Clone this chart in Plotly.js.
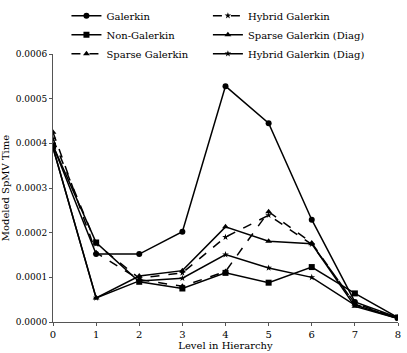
<!DOCTYPE html>
<html>
<head>
<meta charset="utf-8">
<script src="https://cdn.plot.ly/plotly-3.0.1.min.js"></script>
<style>
  html, body { margin: 0; padding: 0; background: #fff; }
  #chart { width: 407px; height: 353px; }
</style>
</head>
<body>
<div id="chart"></div>
<script>
// levels in the hierarchy
let levels = [0, 1, 2, 3, 4, 5, 6, 7, 8];

// modeled SpMV time per level
let galerkin       = [0.000395, 0.000152, 0.000152, 0.000202, 0.000528, 0.000445, 0.000229, 0.000045, 0.000010];
let nonGalerkin    = [0.000395, 0.000178, 0.000090, 0.000075, 0.000110, 0.000088, 0.000123, 0.000064, 0.000010];
let sparseGal      = [0.000425, 0.000155, 0.000095, 0.000080, 0.000113, 0.000247, 0.000177, 0.000040, 0.000008];
let hybridGal      = [0.000410, 0.000175, 0.000098, 0.000110, 0.000190, 0.000239, 0.000174, 0.000042, 0.000008];
let sparseGalDiag  = [0.000390, 0.000054, 0.000103, 0.000115, 0.000213, 0.000181, 0.000175, 0.000035, 0.000008];
let hybridGalDiag  = [0.000390, 0.000054, 0.000092, 0.000098, 0.000151, 0.000121, 0.000100, 0.000038, 0.000008];

function series(name, y, symbol, size, dash, leg) {
    return {
        x: levels,
        y: y,
        name: name,
        legend: leg,
        mode: 'lines+markers',
        type: 'scatter',
        line: {color: '#000', width: 1.5, dash: dash},
        marker: {color: '#000', symbol: symbol, size: size}
    };
}

let traces = [
    series('Galerkin', galerkin, 'circle', 6, 'solid', 'legend'),
    series('Non-Galerkin', nonGalerkin, 'square', 6, 'solid', 'legend'),
    series('Sparse Galerkin', sparseGal, 'triangle-up', 6, 'dash', 'legend'),
    series('Hybrid Galerkin', hybridGal, 'star', 5, 'dash', 'legend2'),
    series('Sparse Galerkin (Diag)', sparseGalDiag, 'triangle-up', 6, 'solid', 'legend2'),
    series('Hybrid Galerkin (Diag)', hybridGalDiag, 'star', 5, 'solid', 'legend2')
];

let legendStyle = {
    orientation: 'v',
    y: 1.197,
    yanchor: 'top',
    xanchor: 'left',
    tracegroupgap: 0,
    font: {family: 'DejaVu Serif', size: 10},
    bgcolor: 'rgba(0,0,0,0)'
};

let layout = {
    width: 407,
    height: 353,
    margin: {l: 53, r: 9, t: 54, b: 31, autoexpand: false},
    paper_bgcolor: '#fff',
    plot_bgcolor: '#fff',
    font: {family: 'DejaVu Serif', size: 9, color: '#000'},
    showlegend: true,
    legend: Object.assign({x: 0.039}, legendStyle),
    legend2: Object.assign({x: 0.449}, legendStyle),
    xaxis: {
        title: {text: 'Level in Hierarchy', font: {size: 10}, standoff: 1},
        range: [0, 8],
        dtick: 1,
        showgrid: false,
        zeroline: false,
        showline: true,
        linecolor: '#555',
        linewidth: 1,
        ticks: 'outside',
        ticklen: 3,
        tickcolor: '#555',
        tickfont: {size: 10}
    },
    yaxis: {
        title: {text: 'Modeled SpMV Time', font: {size: 10}, standoff: 5},
        range: [0, 0.0006],
        dtick: 0.0001,
        tickformat: '.4f',
        showgrid: false,
        zeroline: false,
        showline: true,
        linecolor: '#555',
        linewidth: 1,
        ticks: 'outside',
        ticklen: 3,
        tickcolor: '#555'
    }
};

Plotly.newPlot('chart', traces, layout, {displayModeBar: false, staticPlot: true});
</script>
</body>
</html>
